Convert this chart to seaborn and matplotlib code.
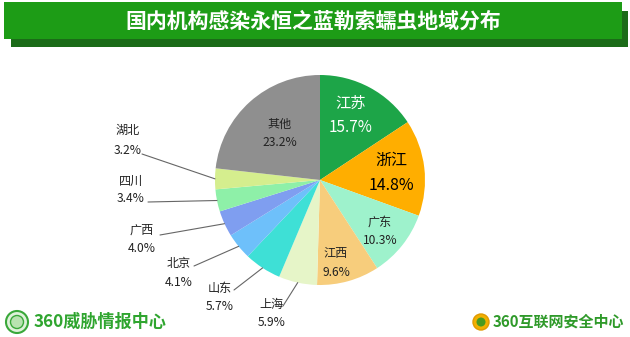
import numpy as np
import matplotlib
matplotlib.use("Agg")
import matplotlib.pyplot as plt
from matplotlib.patches import Rectangle, Circle
import seaborn as sns

# ---------------- data ----------------
regions = ["江苏", "浙江", "广东", "江西", "上海", "山东", "北京", "广西", "四川", "湖北", "其他"]
shares = [15.7, 14.8, 10.3, 9.6, 5.9, 5.7, 4.1, 4.0, 3.4, 3.2, 23.2]
pct_labels = ["15.7%", "14.8%", "10.3%", "9.6%", "5.9%", "5.7%", "4.1%", "4.0%", "3.4%", "3.2%", "23.2%"]
title = "国内机构感染永恒之蓝勒索蠕虫地域分布"
logo_left = "360威胁情报中心"
logo_right = "360互联网安全中心"

# ---------------- style ----------------
sns.set_theme(style="white")
plt.rcParams["font.family"] = ["Noto Sans CJK SC", "DejaVu Sans"]

colors = sns.color_palette(["#1DA548", "#FFAE00", "#9EF2CC", "#F7CD7C", "#E6F5C8",
                            "#3EE0D6", "#6EC0FA", "#7F9EF0", "#8EF0A8", "#D5EE8E",
                            "#8F8F8F"])

W, H = 630, 337
fig = plt.figure(figsize=(W / 100, H / 100), dpi=100)
fig.patch.set_facecolor("white")
ax = fig.add_axes([0, 0, 1, 1])
ax.set_xlim(0, W)
ax.set_ylim(0, H)
ax.set_aspect("equal")
ax.axis("off")

def Y(y):  # top-down pixel -> axis units
    return H - y

# title banner
ax.add_patch(Rectangle((11, Y(47)), 617, 36, facecolor="#1B6B18", edgecolor="none", zorder=1))
ax.add_patch(Rectangle((4, Y(39)), 618, 37, facecolor="#1D9C16", edgecolor="none", zorder=2))
ax.text(313, Y(21), title, color="white", fontsize=15, fontweight="bold",
        ha="center", va="center", zorder=3)

# pie
cx, cy, R = 320, Y(180), 105
wedges, _ = ax.pie(shares, colors=colors, startangle=90, counterclock=False,
                   center=(cx, cy), radius=R, frame=True,
                   wedgeprops=dict(linewidth=0, edgecolor="none"))
ax.set_xlim(0, W)
ax.set_ylim(0, H)
ax.axis("off")

# label layout: (x, y_name, y_pct, size, color, leader start or None)
layout = {
    "江苏": (351, 103, 128, 11, "white", None),
    "浙江": (391, 160, 185, 11.5, "black", None),
    "广东": (380, 222, 241, 8.7, "#222222", None),
    "江西": (336, 253, 272, 8.7, "#222222", None),
    "上海": (272, 304, 323, 8.7, "#222222", (283, 306)),
    "山东": (220, 288, 307, 8.7, "#222222", (234, 290)),
    "北京": (179, 263, 283, 8.7, "#222222", (194, 266)),
    "广西": (142, 230, 248, 8.7, "#222222", (160, 235)),
    "四川": (131, 181, 199, 8.7, "#222222", (148, 202)),
    "湖北": (128, 130, 151, 8.7, "#222222", (142, 154)),
    "其他": (280, 124, 143, 8.7, "#222222", None),
}

for name, pct, w in zip(regions, pct_labels, wedges):
    x, yn, yp, size, col, lead = layout[name]
    ax.text(x, Y(yn), name, ha="center", va="center", fontsize=size, color=col, zorder=5)
    ax.text(x, Y(yp), pct, ha="center", va="center", fontsize=size, color=col, zorder=5)
    if lead is not None:
        mid = np.deg2rad((w.theta1 + w.theta2) / 2)
        ex = w.center[0] + w.r * np.cos(mid)
        ey = w.center[1] + w.r * np.sin(mid)
        ax.plot([lead[0], ex], [Y(lead[1]), ey], color="#666666", lw=0.8, zorder=4)

# bottom logos
ax.add_patch(Circle((17, Y(322)), 11, facecolor="#DFF2DA", edgecolor="#3AA83A", lw=1.5, zorder=3))
ax.add_patch(Circle((17, Y(322)), 6.5, facecolor="#B8E3B0", edgecolor="#3AA83A", lw=1.0, zorder=4))
ax.text(34, Y(322), logo_left, color="#2FA52F", fontsize=12.3, fontweight="bold",
        ha="left", va="center", zorder=3)

ax.add_patch(Circle((481, Y(322)), 8, facecolor="#F2B000", edgecolor="#E09A00", lw=1, zorder=3))
ax.add_patch(Circle((481, Y(322)), 4.5, facecolor="#4A9A20", edgecolor="none", zorder=4))
ax.text(493, Y(322), logo_right, color="#2F9A2A", fontsize=10.8, fontweight="bold",
        ha="left", va="center", zorder=3)

fig.savefig("out.png", dpi=100, facecolor="white")
